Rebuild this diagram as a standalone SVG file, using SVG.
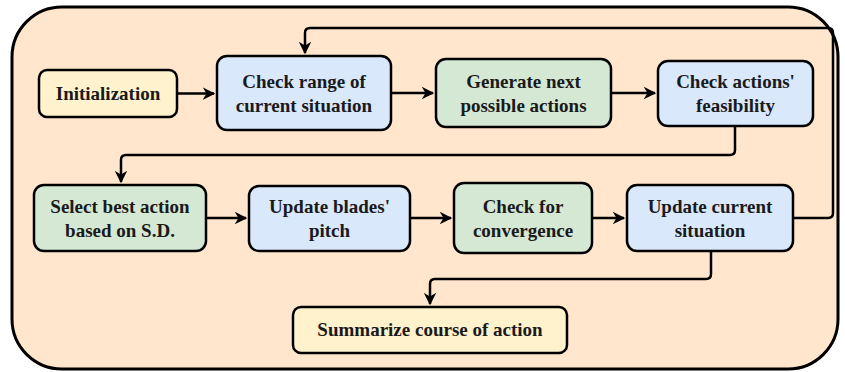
<svg xmlns="http://www.w3.org/2000/svg" width="845" height="372" viewBox="0 0 845 372">
<style>
.bx{stroke:#000;stroke-width:2.5}
.y{fill:#fff2cc}.b{fill:#dae8fc}.g{fill:#d5e8d4}
text{font-family:'Liberation Serif','DejaVu Serif',serif;font-weight:700;font-size:19px;fill:#1a1a1a;text-anchor:middle}
.c{fill:none;stroke:#000;stroke-width:2.5;stroke-linejoin:round}
</style>
<defs>
<marker id="ar" viewBox="0 0 10 10" refX="9" refY="5" markerWidth="5" markerHeight="5" orient="auto" markerUnits="strokeWidth">
<path d="M0,0 L10,5 L0,10 L3,5 Z" fill="#000"/>
</marker>
</defs>
<rect id="container" x="12" y="7" width="826" height="362" rx="50" fill="#ffe6cc" stroke="#000" stroke-width="3"/>
<g id="connectors">
<path class="c" d="M177,93.5 H214" marker-end="url(#ar)"/>
<path class="c" d="M391,93 H433" marker-end="url(#ar)"/>
<path class="c" d="M611,93 H655" marker-end="url(#ar)"/>
<path class="c" d="M735,126 V150 Q735,155 730,155 H126 Q121,155 121,160 V182" marker-end="url(#ar)"/>
<path class="c" d="M206,218 H246" marker-end="url(#ar)"/>
<path class="c" d="M410,218 H451" marker-end="url(#ar)"/>
<path class="c" d="M592,218 H624" marker-end="url(#ar)"/>
<path class="c" d="M793,218 H828 Q833,218 833,213 V33 Q833,28 828,28 H310 Q305,28 305,33 V53" marker-end="url(#ar)"/>
<path class="c" d="M711,251 V274 Q711,279 706,279 H435 Q430,279 430,284 V304" marker-end="url(#ar)"/>
</g>
<g id="n1"><rect class="bx y" x="39" y="70" width="138" height="47" rx="8"/><text x="108" y="100">Initialization</text></g>
<g id="n2"><rect class="bx b" x="217" y="56" width="174" height="74" rx="10"/><text x="304" y="88">Check range of</text><text x="304" y="112">current situation</text></g>
<g id="n3"><rect class="bx g" x="436" y="59" width="175" height="68" rx="10"/><text x="523.5" y="88">Generate next</text><text x="523.5" y="112">possible actions</text></g>
<g id="n4"><rect class="bx b" x="658" y="61" width="155" height="65" rx="10"/><text x="735.5" y="88">Check actions'</text><text x="735.5" y="112">feasibility</text></g>
<g id="n5"><rect class="bx g" x="34" y="185" width="172" height="66" rx="10"/><text x="120" y="213">Select best action</text><text x="120" y="237">based on S.D.</text></g>
<g id="n6"><rect class="bx b" x="249" y="186" width="161" height="65" rx="10"/><text x="329.5" y="213">Update blades'</text><text x="329.5" y="237">pitch</text></g>
<g id="n7"><rect class="bx g" x="454" y="183" width="138" height="70" rx="10"/><text x="523" y="213">Check for</text><text x="523" y="237">convergence</text></g>
<g id="n8"><rect class="bx b" x="627" y="185" width="166" height="66" rx="10"/><text x="710" y="213">Update current</text><text x="710" y="237">situation</text></g>
<g id="n9"><rect class="bx y" x="293" y="307" width="274" height="46" rx="8"/><text x="430" y="336">Summarize course of action</text></g>
</svg>
